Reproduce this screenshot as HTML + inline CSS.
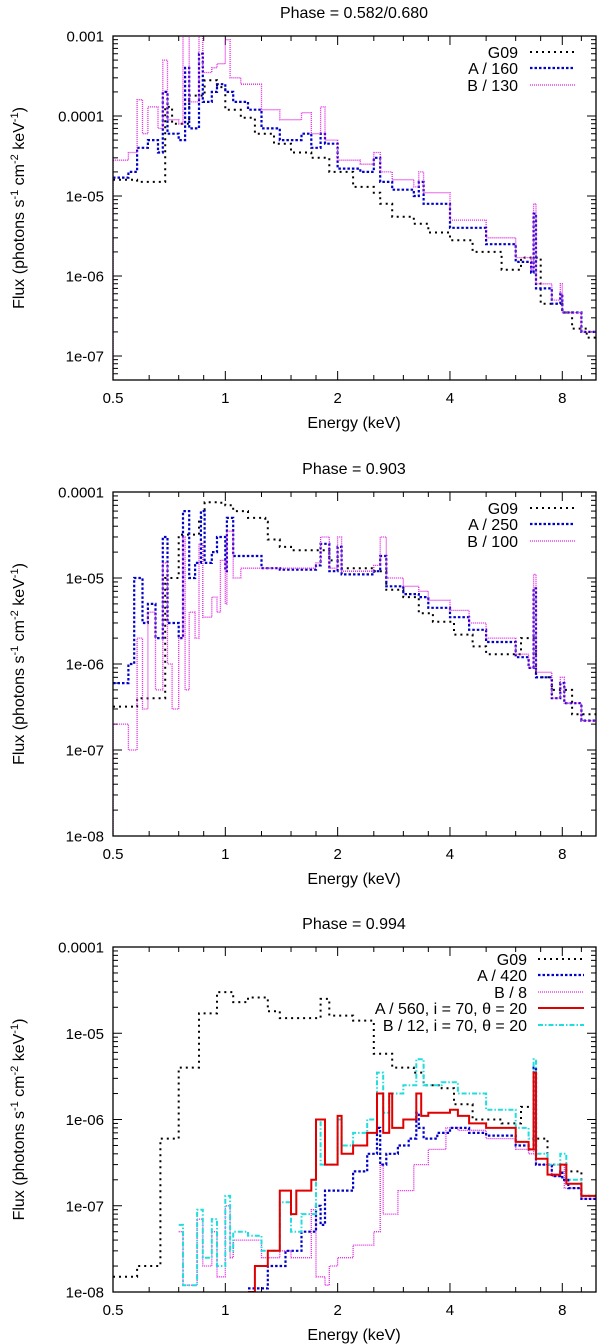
<!DOCTYPE html>
<html><head><meta charset="utf-8"><style>
body{margin:0;background:#fff}
svg{display:block;font-family:"Liberation Sans",sans-serif}
</style></head><body>
<svg id="fig" width="600" height="1344" viewBox="0 0 600 1344" xmlns="http://www.w3.org/2000/svg"></svg>
<script>
// ---------- data ----------
const xTickLabels = ["0.5","1","2","4","8"];
const xTickValues = [0.5,1,2,4,8];

// Panel 1 (Phase 0.582/0.680)
const p1_G09_E = [0.5,0.58,0.69,0.72,0.8,0.88,0.95,1.0,1.1,1.2,1.35,1.5,1.7,1.9,2.2,2.5,2.6,2.8,3.2,3.5,4.0,4.6,5.5,6.2,6.7,7.0,8.0,8.5,9.3,9.9];
const p1_G09_F = [1.6e-5,1.5e-5,1.3e-4,8e-5,1.8e-4,2.8e-4,2.3e-4,1.2e-4,9.5e-5,6e-5,4.5e-5,3.5e-5,3e-5,2e-5,1.3e-5,1.1e-5,8e-6,5.5e-6,4.5e-6,3.5e-6,2.8e-6,2e-6,1.2e-6,1.7e-6,1.7e-6,4.5e-7,3.5e-7,2.2e-7,1.7e-7,1.2e-7];
const p1_A_E = [0.5,0.55,0.58,0.62,0.66,0.68,0.7,0.75,0.78,0.8,0.85,0.87,0.92,0.95,1.0,1.05,1.15,1.25,1.4,1.6,1.7,1.8,1.85,2.0,2.3,2.5,2.6,2.8,3.2,3.3,3.4,4.0,5.0,6.0,6.6,6.7,6.8,7.5,7.9,8.0,9.0,9.9];
const p1_A_F = [1.7e-5,2e-5,4e-5,5e-5,3.5e-5,2e-4,6e-5,5e-5,4e-4,7e-5,6e-4,1.5e-4,2e-4,2.5e-4,2e-4,1.5e-4,1.2e-4,7e-5,5e-5,6e-5,4e-5,6e-5,4.5e-5,2.2e-5,2e-5,3e-5,1.5e-5,1.2e-5,1e-5,1.5e-5,8e-6,4e-6,2.5e-6,1.5e-6,1.1e-6,6e-6,7e-7,4.5e-7,6e-7,3.5e-7,2e-7,1.2e-7];
const p1_B_E = [0.5,0.55,0.58,0.6,0.62,0.66,0.68,0.7,0.75,0.77,0.8,0.85,0.87,0.92,0.95,1.0,1.03,1.1,1.25,1.4,1.6,1.7,1.8,1.85,2.0,2.3,2.5,2.6,2.8,3.2,3.3,3.4,4.0,5.0,6.0,6.6,6.7,6.8,7.5,7.9,8.0,9.0,9.9];
const p1_B_F = [2.8e-5,3.5e-5,1.6e-4,6e-5,1.3e-4,7e-5,5e-4,9e-5,8e-5,1e-3,1.5e-4,1e-3,3.5e-4,4e-4,4.5e-4,9e-4,3e-4,2.5e-4,1.2e-4,9e-5,1.1e-4,6e-5,1.3e-4,5e-5,2.8e-5,2.5e-5,3.5e-5,2e-5,1.6e-5,1.3e-5,2e-5,1.1e-5,5e-6,3e-6,1.7e-6,1.2e-6,8e-6,8e-7,5e-7,8e-7,3.5e-7,2e-7,1.2e-7];

// Panel 2 (Phase 0.903)
const p2_G09_E = [0.5,0.58,0.69,0.75,0.85,0.88,0.95,1.0,1.05,1.15,1.28,1.3,1.4,1.5,1.9,2.0,2.5,2.7,3.0,3.3,3.6,4.1,4.6,5.0,6.2,6.8,7.5,8.0,8.5,9.3,9.9];
const p2_G09_F = [3.2e-7,4e-7,1e-5,3.2e-5,5e-5,7.6e-5,7.5e-5,7e-5,6e-5,5e-5,4.5e-5,2.8e-5,2.3e-5,2.1e-5,1.6e-5,1.3e-5,1.2e-5,7.3e-6,6e-6,3.9e-6,3.1e-6,2.2e-6,1.6e-6,1.3e-6,2e-6,7e-7,5e-7,5e-7,2.6e-7,2.6e-7,2.2e-7];
const p2_A_E = [0.5,0.55,0.57,0.6,0.62,0.65,0.68,0.7,0.75,0.77,0.8,0.83,0.86,0.88,0.92,0.95,1.0,1.01,1.05,1.15,1.25,1.4,1.75,1.8,1.9,2.0,2.05,2.2,2.5,2.6,2.7,3.0,3.3,3.5,4.0,4.5,5.0,6.0,6.5,6.7,6.8,7.5,7.9,8.1,9.0,9.9];
const p2_A_F = [6e-7,1e-6,1e-5,3e-6,5e-6,2e-6,3e-5,3e-6,2e-6,6e-5,1e-5,1.5e-5,6e-5,1.5e-5,2e-5,3e-5,1.2e-5,5e-5,1.8e-5,1.8e-5,1.3e-5,1.25e-5,1.4e-5,2.5e-5,1.2e-5,2.3e-5,1.1e-5,1.1e-5,1.2e-5,1.8e-5,8e-6,6.5e-6,6e-6,4.5e-6,3.5e-6,2.5e-6,1.8e-6,1.2e-6,9e-7,7.6e-6,7e-7,4e-7,6e-7,3.5e-7,2.2e-7,1.5e-7];
const p2_B_E = [0.5,0.55,0.58,0.6,0.62,0.65,0.68,0.7,0.72,0.75,0.77,0.78,0.8,0.83,0.85,0.87,0.92,0.95,0.97,1.0,1.01,1.05,1.1,1.4,1.75,1.8,1.9,2.0,2.05,2.2,2.5,2.6,2.7,3.0,3.3,3.5,4.0,4.5,5.0,6.0,6.5,6.7,6.8,7.5,7.9,8.1,9.0,9.9];
const p2_B_F = [2e-7,1e-7,2e-6,3e-7,4e-6,5e-7,1.5e-5,1e-6,3e-7,2e-6,3e-5,5e-7,4e-6,2e-6,2.5e-5,3.5e-6,6e-6,4e-6,1.6e-5,5e-6,3.5e-5,1e-5,1.3e-5,1.3e-5,1.5e-5,3e-5,1.3e-5,3e-5,1.2e-5,1.2e-5,1.4e-5,3e-5,1e-5,8e-6,7e-6,5.5e-6,4.2e-6,3e-6,2e-6,1.3e-6,9e-7,1.1e-5,8e-7,4e-7,7e-7,3.5e-7,2.2e-7,1.5e-7];

// Panel 3 (Phase 0.994)
const p3_G09_E = [0.5,0.58,0.67,0.75,0.85,0.95,1.05,1.15,1.3,1.4,1.6,1.8,1.9,2.2,2.5,2.8,3.2,3.4,3.8,4.1,4.6,5.5,6.2,6.7,7.3,8.2,9.0,9.9];
const p3_G09_F = [1.5e-8,2e-8,6e-7,4e-6,1.7e-5,3e-5,2.3e-5,2.6e-5,1.8e-5,1.5e-5,1.5e-5,2.5e-5,1.6e-5,1.4e-5,5.8e-6,4e-6,3.5e-6,2.5e-6,2.3e-6,1.5e-6,1e-6,9e-7,1.4e-6,6e-7,3e-7,2.5e-7,1.3e-7,1.1e-7];
const p3_A_E = [1.15,1.3,1.45,1.6,1.75,1.8,1.85,2.0,2.2,2.4,2.55,2.6,2.7,2.9,3.1,3.25,3.3,3.4,3.7,4.0,4.5,5.0,6.0,6.5,6.7,6.8,7.5,7.9,8.0,8.3,9.0,9.9];
const p3_A_F = [1.1e-8,2e-8,3e-8,5e-8,1e-7,6e-8,1.5e-7,1.5e-7,2.5e-7,4e-7,8e-7,3e-7,4e-7,5e-7,6e-7,1.2e-6,8e-7,6e-7,7e-7,8e-7,7e-7,6.5e-7,5e-7,4.5e-7,4e-6,3e-7,2.2e-7,2.5e-7,2e-7,1.6e-7,1.2e-7,9e-8];
const p3_B_E = [0.75,0.77,0.83,0.84,0.87,0.92,0.95,1.0,1.03,1.05,1.15,1.25,1.4,1.5,1.7,1.75,1.85,1.9,2.0,2.2,2.5,2.6,2.65,2.9,3.2,3.5,3.9,4.2,5.0,6.0,6.5,6.7,6.8,7.5,7.9,8.1,9.0,9.9];
const p3_B_F = [5e-8,1.2e-8,1.2e-8,7e-8,2e-8,5e-8,1.5e-8,1e-7,2.5e-8,4e-8,4e-8,2.5e-8,3e-8,2.5e-8,9e-8,1.5e-8,1.2e-8,2e-8,2.5e-8,3.5e-8,5e-8,3e-7,8e-8,1.5e-7,3e-7,4.5e-7,8e-7,7.5e-7,6e-7,4.5e-7,4e-7,4e-6,3e-7,2.2e-7,3e-7,1.6e-7,1.2e-7,9e-8];
const p3_Ai_E = [1.15,1.2,1.3,1.4,1.5,1.55,1.7,1.75,1.85,2.0,2.05,2.2,2.4,2.55,2.65,2.75,2.8,3.0,3.25,3.35,3.5,3.8,4.0,4.2,4.5,5.0,6.0,6.5,6.7,6.8,7.3,7.9,8.2,9.0,9.9];
const p3_Ai_F = [1e-8,2e-8,3e-8,1.5e-7,8e-8,1.5e-7,2e-7,1e-6,3e-7,1.1e-6,4e-7,5e-7,7e-7,2e-6,7e-7,2e-6,8e-7,1e-6,2e-6,1.1e-6,1.2e-6,1.2e-6,1.3e-6,1.1e-6,9e-7,8e-7,5.5e-7,4.5e-7,3.5e-6,3.5e-7,2.3e-7,3e-7,1.8e-7,1.3e-7,1e-7];
const p3_Bi_E = [0.75,0.77,0.84,0.87,0.92,0.95,1.0,1.03,1.05,1.15,1.25,1.4,1.5,1.6,1.75,1.8,2.0,2.05,2.2,2.4,2.55,2.65,2.75,3.0,3.25,3.4,3.8,4.2,5.0,6.0,6.5,6.7,6.8,7.3,7.9,8.2,9.0,9.9];
const p3_Bi_F = [6e-8,1.2e-8,9e-8,2.5e-8,7e-8,2e-8,1.3e-7,3e-8,5e-8,4.5e-8,3e-8,1.1e-7,5e-8,8e-8,1e-6,3e-7,1e-6,5e-7,7e-7,1e-6,3.5e-6,1.2e-6,2e-6,2.5e-6,5e-6,2.5e-6,2.7e-6,2e-6,1.3e-6,8e-7,6e-7,5e-6,4e-7,3e-7,4e-7,2e-7,1.3e-7,1e-7];

// ---------- drawing ----------
const NS="http://www.w3.org/2000/svg";
const svg=document.getElementById('fig');
function mk(tag,attrs,parent){const e=document.createElementNS(NS,tag);for(const k in attrs)e.setAttribute(k,attrs[k]);(parent||svg).appendChild(e);return e;}
const L=113,R=596,XMIN=0.5,XMAX=9.85;
function xs(e){return L+(R-L)*Math.log(e/XMIN)/Math.log(XMAX/XMIN);}

const styles={
 g09:{stroke:"#000",w:2,dash:"2 4"},
 a:{stroke:"#0000cc",w:2.2,dash:"2.5 2"},
 b:{stroke:"#e020e0",w:1.3,dash:"1 1"},
 ai:{stroke:"#e00000",w:2,dash:""},
 bi:{stroke:"#22dddd",w:2,dash:"5 2 1.5 2"}
};

function panel(id,top,bot,ymaxExp,yminLog,title,yLabels,series,legend){
 const g=mk('g',{});
 
 
 const ys=v=>top+(bot-top)*(ymaxExp-Math.log10(v))/(ymaxExp-yminLog);
 const clipId=id+'-clip';
 const cp=mk('clipPath',{id:clipId},g);mk('rect',{x:L,y:top,width:R-L,height:bot-top},cp);
 const tk=mk('g',{stroke:'#000','stroke-width':1},g);
 
 
 for(let d=Math.floor(yminLog);d<=ymaxExp;d++){
  for(let m=1;m<10;m++){const v=m*Math.pow(10,d);const lv=Math.log10(v);if(lv>ymaxExp+1e-9||lv<yminLog-1e-9)continue;
   const y=ys(v);const len=m===1?9:5;
   mk('line',{x1:L,x2:L+len,y1:y,y2:y},tk);mk('line',{x1:R,x2:R-len,y1:y,y2:y},tk);}
 }
 const minor=[];
 for(let e=0.5;e<1;e+=0.125)minor.push(e);for(let e=1;e<2;e+=0.25)minor.push(e);
 for(let e=2;e<4;e+=0.5)minor.push(e);for(let e=4;e<=9.01;e+=1)minor.push(e);
 minor.forEach(e=>{const x=xs(e);const maj=xTickValues.some(t=>Math.abs(t-e)<1e-6);const len=maj?9:5;
  mk('line',{x1:x,x2:x,y1:bot,y2:bot-len},tk);mk('line',{x1:x,x2:x,y1:top,y2:top+len},tk);});
 yLabels.forEach((lab,i)=>{const t=mk('text',{x:104,y:ys(Math.pow(10,ymaxExp-i))+5.5,'font-size':15,'text-anchor':'end'},g);t.textContent=lab;
  
  });
 xTickValues.forEach((v,i)=>{const t=mk('text',{x:xs(v),y:bot+23,'font-size':15,'text-anchor':'middle'},g);t.textContent=xTickLabels[i];
  
  });
 const sg=mk('g',{'clip-path':'url(#'+clipId+')',fill:'none'},g);
 series.forEach(s=>{const E=s.E,F=s.F;let d='';
  for(let i=0;i<E.length;i++){const x0=xs(E[i]);const x1=i+1<E.length?xs(E[i+1]):R+2;const y=ys(F[i]);
   d+=(i===0?'M':'L')+x0.toFixed(1)+','+y.toFixed(1)+'L'+x1.toFixed(1)+','+y.toFixed(1);}
  if(s.dropStart){d='M'+xs(E[0]).toFixed(1)+','+(bot+2)+d.replace(/^M/,'L');}
  const st=styles[s.k];
  const p=mk('path',{d:d,stroke:st.stroke,'stroke-width':st.w,'stroke-dasharray':st.dash},sg);
  
  
 });
 mk('rect',{x:L,y:top,width:R-L,height:bot-top,fill:'none',stroke:'#000','stroke-width':1.3},g);
 const tt=mk('text',{x:354,y:top-18,'font-size':16,'text-anchor':'middle'},g);tt.textContent=title;
 
 
 const xl=mk('text',{x:354,y:bot+48,'font-size':16,'text-anchor':'middle'},g);xl.textContent='Energy (keV)';
 
 
 const cy=(top+bot)/2;
 const yl=mk('text',{x:0,y:0,'font-size':16,'text-anchor':'middle',transform:'translate(24,'+cy+') rotate(-90)'},g);
 
 
 yl.innerHTML='Flux (photons s<tspan dy="-6" font-size="11">-1</tspan><tspan dy="6"> cm</tspan><tspan dy="-6" font-size="11">-2</tspan><tspan dy="6"> keV</tspan><tspan dy="-6" font-size="11">-1</tspan><tspan dy="6">)</tspan>';
 legend.forEach(le=>{const st=styles[le.k];
  const lt=mk('text',{x:le.tx,y:le.y+6,'font-size':16,'text-anchor':'end'},g);lt.textContent=le.label;
  
  
  const ll=mk('line',{x1:le.x1,x2:le.x2,y1:le.y,y2:le.y,stroke:st.stroke,'stroke-width':st.w,'stroke-dasharray':st.dash},g);
  
  
 });
}

panel('panel-phase-0582',36,380,-3,-3-344/80,'Phase = 0.582/0.680',["0.001","0.0001","1e-05","1e-06","1e-07"],
 [{k:'g09',E:p1_G09_E,F:p1_G09_F},{k:'a',E:p1_A_E,F:p1_A_F},{k:'b',E:p1_B_E,F:p1_B_F,dropStart:true}],
 [{k:'g09',label:'G09',y:52,tx:518,x1:530,x2:575},{k:'a',label:'A / 160',y:68,tx:518,x1:530,x2:575},{k:'b',label:'B / 130',y:85,tx:518,x1:530,x2:575}]);

panel('panel-phase-0903',492,836,-4,-8,'Phase = 0.903',["0.0001","1e-05","1e-06","1e-07","1e-08"],
 [{k:'g09',E:p2_G09_E,F:p2_G09_F},{k:'a',E:p2_A_E,F:p2_A_F},{k:'b',E:p2_B_E,F:p2_B_F,dropStart:true}],
 [{k:'g09',label:'G09',y:508,tx:518,x1:530,x2:575},{k:'a',label:'A / 250',y:524,tx:518,x1:530,x2:575},{k:'b',label:'B / 100',y:541,tx:518,x1:530,x2:575}]);

panel('panel-phase-0994',947,1292,-4,-8,'Phase = 0.994',["0.0001","1e-05","1e-06","1e-07","1e-08"],
 [{k:'g09',E:p3_G09_E,F:p3_G09_F},{k:'b',E:p3_B_E,F:p3_B_F},{k:'a',E:p3_A_E,F:p3_A_F},{k:'bi',E:p3_Bi_E,F:p3_Bi_F},{k:'ai',E:p3_Ai_E,F:p3_Ai_F}],
 [{k:'g09',label:'G09',y:959,tx:527,x1:538,x2:584},{k:'a',label:'A / 420',y:975,tx:527,x1:538,x2:584},{k:'b',label:'B / 8',y:992,tx:527,x1:538,x2:584},
  {k:'ai',label:'A / 560, i = 70, θ = 20',y:1008,tx:527,x1:538,x2:584},{k:'bi',label:'B / 12, i = 70, θ = 20',y:1025,tx:527,x1:538,x2:584}]);
</script>
</body></html>
